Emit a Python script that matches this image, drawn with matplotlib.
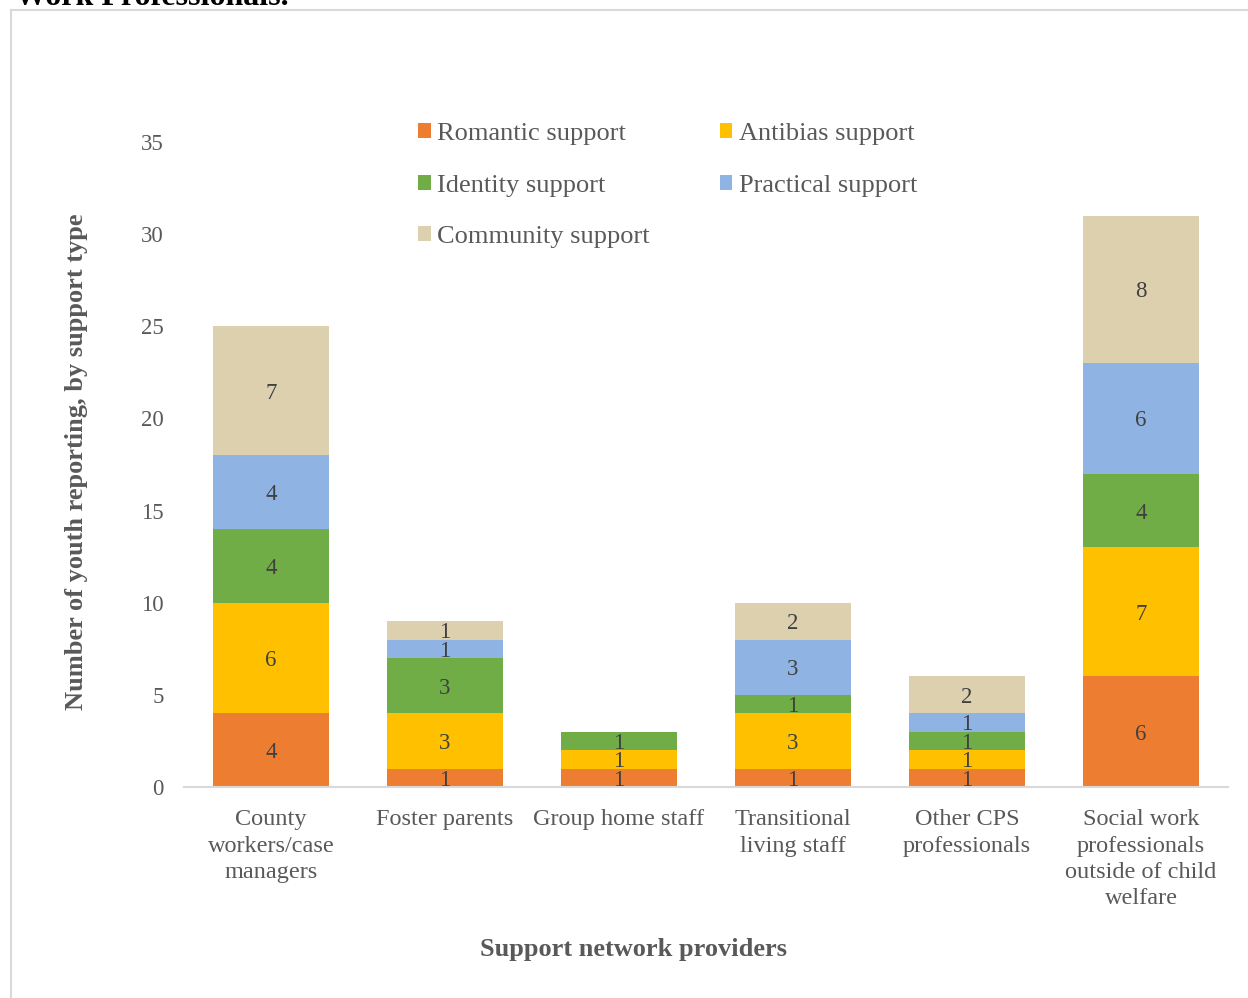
import matplotlib
matplotlib.use("Agg")
import matplotlib.pyplot as plt
from matplotlib.lines import Line2D
from matplotlib.patches import Patch
import numpy as np

plt.rcParams['font.family'] = ['Liberation Serif', 'DejaVu Serif']

categories = ["County\nworkers/case\nmanagers", "Foster parents", "Group home staff",
              "Transitional\nliving staff", "Other CPS\nprofessionals",
              "Social work\nprofessionals\noutside of child\nwelfare"]
series_names = ["Romantic support", "Antibias support", "Identity support",
                "Practical support", "Community support"]
romantic = [4, 1, 1, 1, 1, 6]
antibias = [6, 3, 1, 3, 1, 7]
identity = [4, 3, 1, 1, 1, 4]
practical = [4, 1, 0, 3, 1, 6]
community = [7, 1, 0, 2, 2, 8]
series_values = [romantic, antibias, identity, practical, community]
colors = ["#ED7D31", "#FFC000", "#70AD47", "#8FB3E2", "#DDD0AF"]
y_ticks = [0, 5, 10, 15, 20, 25, 30, 35]

W, H = 1248, 998
AX_L, AX_R, AX_T, AX_B = 184, 1228, 142, 787
fig = plt.figure(figsize=(W / 100, H / 100), dpi=100)
ax = fig.add_axes([AX_L / W, 1 - AX_B / H, (AX_R - AX_L) / W, (AX_B - AX_T) / H])

x = np.arange(len(categories))
bottom = np.zeros(len(categories))
handles = []
for name, vals, col in zip(series_names, series_values, colors):
    vals = np.array(vals, dtype=float)
    ax.bar(x, vals, width=0.667, bottom=bottom, color=col, label=name)
    for xi, b, v in zip(x, bottom, vals):
        if v > 0:
            ax.text(xi, b + v / 2, f"{int(v)}", ha='center', va='center_baseline',
                    fontsize=16.5, color='#404040')
    bottom += vals
    handles.append(Patch(facecolor=col, label=name))

ax.set_xlim(-0.5, len(categories) - 0.5)
ax.set_ylim(0, 35)
ax.set_yticks(y_ticks)
ax.set_xticks(x)
ax.set_xticklabels(categories, fontsize=17.5, color='#595959', linespacing=1.33)
ax.tick_params(axis='y', length=0, pad=14.5, labelsize=16.5, labelcolor='#595959')
ax.tick_params(axis='x', length=0, pad=16)
for s in ['top', 'right', 'left']:
    ax.spines[s].set_visible(False)
ax.spines['bottom'].set_color('#D9D9D9')
ax.spines['bottom'].set_linewidth(1.5)

ax_w = AX_R - AX_L
ax_h = AX_B - AX_T
ax.set_ylabel("Number of youth reporting, by support type", fontsize=19,
              fontweight='bold', color='#595959')
ax.yaxis.set_label_coords(-0.092, (AX_B - 462) / ax_h)
ax.set_xlabel("Support network providers", fontsize=19, fontweight='bold',
              color='#595959')
ax.xaxis.set_label_coords((633 - AX_L) / ax_w, -(938 - AX_B) / ax_h)

order = [0, 2, 4, 1, 3]
leg = ax.legend([handles[i] for i in order], [series_names[i] for i in order],
                ncol=2, loc='upper left',
                bbox_to_anchor=((418 - AX_L) / ax_w, (AX_B - 123) / ax_h),
                frameon=False, fontsize=19, handlelength=0.48, handleheight=0.48,
                handletextpad=0.25, labelspacing=1.12, columnspacing=2.65,
                borderpad=0, borderaxespad=0)
for t in leg.get_texts():
    t.set_color('#595959')

# outer chart frame
fig.add_artist(Line2D([11 / W, 11 / W], [0, 1 - 10 / H], color='#D9D9D9', lw=1.5))
fig.add_artist(Line2D([11 / W, 1], [1 - 10 / H, 1 - 10 / H], color='#D9D9D9', lw=1.5))

fig.text(15 / W, 1 - 5 / H, "Work Professionals.", fontsize=23, fontweight='bold',
         ha='left', va='baseline', color='black')

fig.savefig("out.png", dpi=100, facecolor='white')
